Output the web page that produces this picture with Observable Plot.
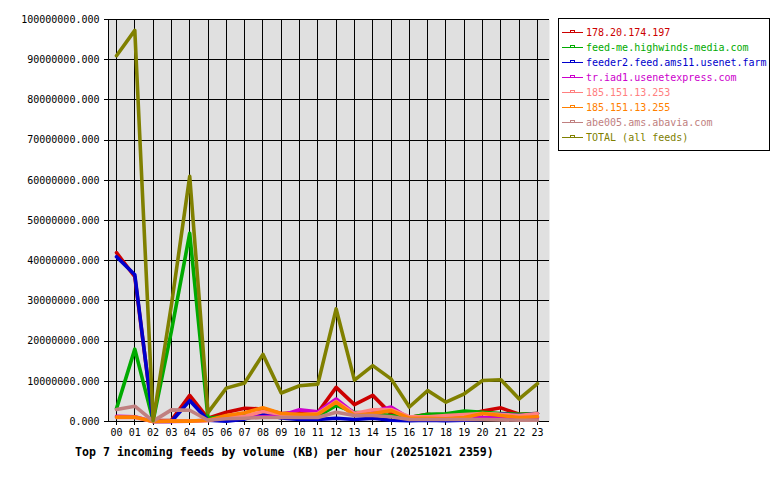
<!DOCTYPE html>
<html><head><meta charset="utf-8">
<script src="https://cdn.jsdelivr.net/npm/d3@7"></script>
<script src="https://cdn.jsdelivr.net/npm/@observablehq/plot@0.6"></script>
<style>
body{margin:0;background:#fff;}
#wrap{position:relative;width:780px;height:480px;font-family:"DejaVu Sans Mono",monospace;overflow:hidden;}
#chart{position:absolute;left:0;top:0;}
#legend{position:absolute;left:558px;top:18px;width:212px;height:133px;border:1px solid #000;background:#fff;box-sizing:border-box;}
.row{position:absolute;left:0;height:15px;font-size:10px;line-height:15px;white-space:nowrap;}
.row svg{position:absolute;left:3px;top:0;}
.row span{position:absolute;left:27px;top:0;}
#title{position:absolute;left:75px;top:445px;font-size:11.6px;font-weight:bold;line-height:14px;white-space:nowrap;}
</style></head><body>
<div id="wrap"><div id="chart"></div><div id="legend"></div><div id="title"></div></div>
<script>
// Hour labels (x categories)
const hourLabels = ["00","01","02","03","04","05","06","07","08","09","10","11","12","13","14","15","16","17","18","19","20","21","22","23"];
// Y tick values, in millions of KB
const yTicksM = [0,10,20,30,40,50,60,70,80,90,100];
// Feed names and colours
const feedNames = ["178.20.174.197","feed-me.highwinds-media.com","feeder2.feed.ams11.usenet.farm","tr.iad1.usenetexpress.com","185.151.13.253","185.151.13.255","abe005.ams.abavia.com","TOTAL (all feeds)"];
const feedColors = ["#cc0000","#00aa00","#0000cc","#cc00cc","#ff8080","#ff8000","#c08080","#808000"];
// Volumes per hour, in millions of KB
const v178 =      [42,36,0.2,0.3,6.5,0.8,2.3,3.3,3.1,2.0,2.2,2.2,8.5,4.2,6.5,1.9,1.0,1.8,1.2,1.5,2.6,3.4,1.8,2.0];
const vHighwinds =[3.2,18,0.2,22.5,46.8,0.8,1.3,1.5,1.4,1.5,1.5,1.3,4.0,2.3,2.0,1.5,1.0,1.8,1.9,2.6,2.3,2.0,1.8,2.0];
const vFeeder2 =  [41,36.5,0,0,5.2,0.3,0.1,0.6,2.0,0.9,0.5,0.5,0.8,0.5,0.8,0.3,0.2,0.3,0.2,0.3,0.5,1.9,1.5,2.0];
const vTrIad1 =   [1.3,1.2,0,0,0.1,0.3,1.0,1.0,1.2,1.5,2.9,2.4,5.6,2.0,2.5,3.6,0.8,1.0,1.0,1.7,1.0,0.8,0.8,1.0];
const v253 =      [1.0,1.0,0,0.1,0.1,0.2,1.3,1.3,2.5,1.8,1.6,2.0,5.0,2.0,2.9,3.0,1.2,1.2,1.5,1.7,2.0,1.8,1.5,2.0];
const v255 =      [1.1,1.1,0,0.1,0.1,0.3,1.5,2.2,3.4,2.0,1.8,1.8,4.8,1.5,2.0,2.7,0.8,0.8,0.7,1.0,2.0,1.5,1.0,1.2];
const vAbe005 =   [3.0,3.8,0.1,2.9,2.8,0.3,0.7,0.8,1.0,1.0,1.0,1.0,2.3,1.5,1.5,1.2,0.5,0.5,0.5,0.5,0.5,0.4,0.3,0.3];
const vTotal =    [91,97.3,0.2,29,61,2.2,8.3,9.6,16.7,7.1,8.9,9.3,28,10.3,13.9,10.6,3.6,7.7,4.8,6.9,10.2,10.4,5.6,9.4];

const seriesValues = [v178,vHighwinds,vFeeder2,vTrIad1,v253,v255,vAbe005,vTotal];
const hourIdx = hourLabels.map((_, i) => i);
const xDomain = [-0.437, 23.656];

const lineMarks = seriesValues.map((vals, k) =>
  Plot.line(vals.map((v, i) => ({hour: i, v})), {x: "hour", y: "v", stroke: feedColors[k], strokeWidth: 3.6})
);

const crisp = {shapeRendering: "crispEdges"};

const chart = Plot.plot({
  width: 780, height: 445,
  marginLeft: 108, marginRight: 231, marginTop: 19, marginBottom: 24,
  style: {fontFamily: "'DejaVu Sans Mono', monospace", fontSize: "10px", color: "#000", background: "transparent", overflow: "visible"},
  x: {domain: xDomain, label: null},
  y: {domain: [0, 100], label: null},
  marks: [
    Plot.frame({fill: "#e0e0e0", stroke: null}),
    Plot.gridY(yTicksM, {stroke: "#000", strokeOpacity: 1, strokeWidth: 1, ...crisp}),
    Plot.gridX(hourIdx, {stroke: "#000", strokeOpacity: 1, strokeWidth: 1, ...crisp}),
    Plot.ruleX([xDomain[0]], {stroke: "#000", ...crisp}),
    Plot.axisX(hourIdx, {tickSize: 4, tickPadding: 3, tickFormat: i => hourLabels[i], fill: "#000", label: null, ...crisp}),
    Plot.axisY(yTicksM, {tickSize: 4, tickPadding: 5, tickFormat: d => d3.format(".3f")(d * 1e6), fill: "#000", label: null, ...crisp}),
    ...lineMarks
  ]
});
document.getElementById("chart").appendChild(chart);

// Legend
const legend = document.getElementById("legend");
feedNames.forEach((name, k) => {
  const row = document.createElement("div");
  row.className = "row";
  row.style.top = (6 + 15 * k) + "px";
  row.innerHTML = `<svg width="22" height="15"><line x1="0" x2="21" y1="7.5" y2="7.5" stroke="${feedColors[k]}" stroke-width="1"/><rect x="8.5" y="5.5" width="4" height="2" fill="none" stroke="${feedColors[k]}" stroke-width="1"/></svg><span style="color:${feedColors[k]}">${name}</span>`;
  legend.appendChild(row);
});

document.getElementById("title").textContent = "Top 7 incoming feeds by volume (KB) per hour (20251021 2359)";
</script>
</body></html>
